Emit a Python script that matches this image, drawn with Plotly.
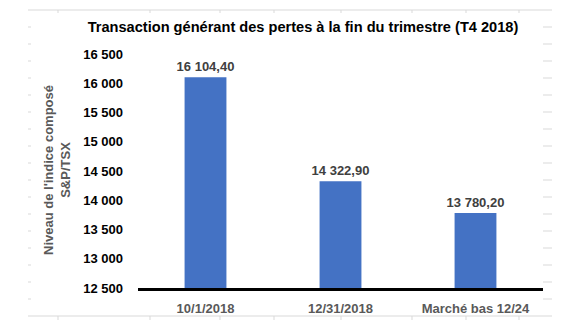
import plotly.graph_objects as go

categories = ["10/1/2018", "12/31/2018", "Marché bas 12/24"]
values = [16104.40, 14322.90, 13780.20]
value_labels = ["16 104,40", "14 322,90", "13 780,20"]
y_ticks = [12500, 13000, 13500, 14000, 14500, 15000, 15500, 16000, 16500]
y_tick_labels = ["12 500", "13 000", "13 500", "14 000", "14 500", "15 000", "15 500", "16 000", "16 500"]

W, H = 580, 330
L, R, T, B = 138, 37, 54, 42
PW, PH = W - L - R, H - T - B

def px(x):
    return (x - L) / PW

def py(y):
    return (H - B - y) / PH

FONT = "Liberation Sans, Arial, sans-serif"

fig = go.Figure()
fig.add_trace(go.Bar(
    x=categories, y=values, width=0.31,
    marker=dict(color="#4472C4", line=dict(width=0)),
    text=value_labels, textposition="outside", cliponaxis=False, constraintext="none",
    textfont=dict(family=FONT, size=13, color="#404040", weight="bold"),
    hoverinfo="skip",
))

shapes = []
grey = dict(color="#d9d9d9", width=1)
# faint spreadsheet background lines
for yy in (10, 316):
    shapes.append(dict(type="line", xref="paper", yref="paper", x0=px(28), x1=px(552), y0=py(yy), y1=py(yy), line=grey, layer="below"))
for xx in [58, 150, 220, 274, 341, 412, 466, 519]:
    shapes.append(dict(type="line", xref="paper", yref="paper", x0=px(xx), x1=px(xx), y0=py(10), y1=py(13), line=grey, layer="below"))
    shapes.append(dict(type="line", xref="paper", yref="paper", x0=px(xx), x1=px(xx), y0=py(316), y1=py(320), line=grey, layer="below"))
for k in range(17):
    yy = 27 + 17 * k
    shapes.append(dict(type="line", xref="paper", yref="paper", x0=px(28), x1=px(31), y0=py(yy), y1=py(yy), line=grey, layer="below"))
    shapes.append(dict(type="line", xref="paper", yref="paper", x0=px(543), x1=px(552), y0=py(yy), y1=py(yy), line=grey, layer="below"))

fig.update_layout(
    width=W, height=H,
    margin=dict(l=L, r=R, t=T, b=B, pad=0),
    paper_bgcolor="white", plot_bgcolor="white",
    showlegend=False,
    title=dict(text="Transaction générant des pertes à la fin du trimestre (T4 2018)",
               x=px(303), xref="paper", xanchor="center", y=1 - 27 / H, yanchor="middle",
               font=dict(family=FONT, size=14.6, color="#000000", weight="bold")),
    xaxis=dict(range=[-0.5, 2.5], showgrid=False, showline=True, linecolor="#000000", linewidth=3,
               ticks="", ticklabelstandoff=6,
               tickfont=dict(family=FONT, size=13, color="#595959", weight="bold")),
    yaxis=dict(range=[12500, 16500], tickvals=y_ticks, ticktext=y_tick_labels,
               showgrid=False, showline=False, zeroline=False, ticks="", ticklabelstandoff=14,
               tickfont=dict(family=FONT, size=13, color="#000000", weight="bold")),
    shapes=shapes,
    annotations=[dict(text="Niveau de l'indice composé<br>S&P/TSX", textangle=-90,
                      xref="paper", yref="paper", x=px(57), y=py(170), xanchor="center", yanchor="middle",
                      showarrow=False,
                      font=dict(family=FONT, size=13, color="#595959", weight="bold"))],
)

fig.write_html("out.html")
